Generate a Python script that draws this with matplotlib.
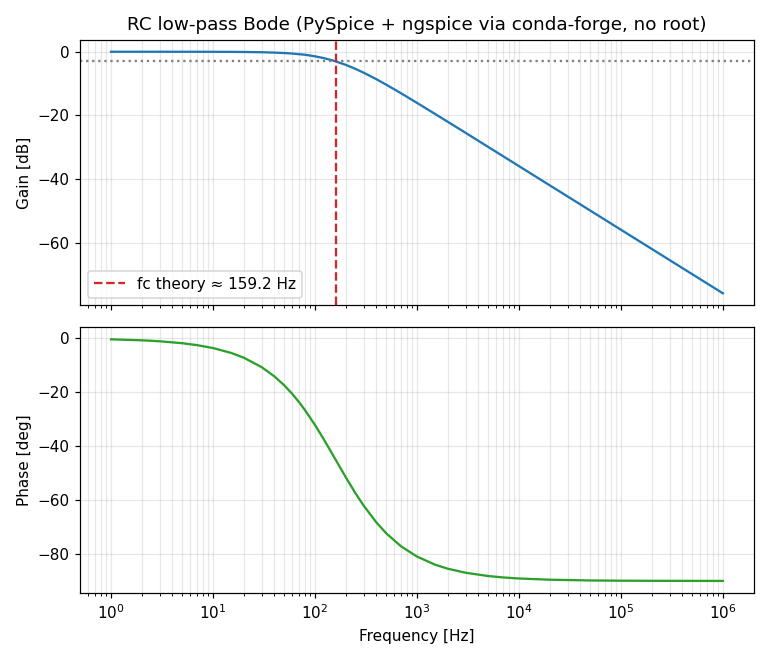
import matplotlib
matplotlib.use("Agg")
import matplotlib.pyplot as plt
from matplotlib.ticker import MultipleLocator

# values
freq_hz = [1, 2, 3, 5, 7, 10, 15, 20, 30, 40, 50, 60, 70, 80, 100, 120, 150,
           200, 250, 300, 400, 500, 700, 1e3, 1.5e3, 2e3, 3e3, 5e3, 7e3,
           1e4, 2e4, 5e4, 1e5, 2e5, 5e5, 1e6]
gain_db = [0.0, 0.0, 0.0, -0.01, -0.01, -0.02, -0.04, -0.07, -0.15, -0.27,
           -0.41, -0.57, -0.77, -0.94, -1.44, -1.95, -2.76, -4.11, -5.4, -6.58,
           -8.64, -10.36, -13.08, -16.07, -19.53, -22.0, -25.5, -29.94, -32.86,
           -35.96, -41.98, -49.94, -55.96, -61.98, -69.94, -75.96]
phase_deg = [-0.36, -0.72, -1.08, -1.8, -2.52, -3.59, -5.38, -7.16, -10.67,
             -14.1, -17.44, -20.65, -23.74, -26.68, -32.13, -37.0, -43.3,
             -51.48, -57.51, -62.05, -68.3, -72.34, -77.19, -80.95, -83.94,
             -85.45, -86.96, -88.18, -88.7, -89.09, -89.54, -89.82, -89.91,
             -89.95, -89.98, -89.99]
fc_theory = 159.2

fig, (ax1, ax2) = plt.subplots(2, 1, figsize=(7, 6), dpi=110, sharex=True)

# gain
ax1.semilogx(freq_hz, gain_db, color="tab:blue")
ax1.axhline(-3, color="gray", linestyle=":")
ax1.axvline(fc_theory, color="tab:red", linestyle="--",
            label=f"fc theory \u2248 {fc_theory:.1f} Hz")
ax1.set_ylabel("Gain [dB]")
ax1.set_title("RC low-pass Bode (PySpice + ngspice via conda-forge, no root)")
ax1.yaxis.set_major_locator(MultipleLocator(20))
ax1.grid(True, which="both", alpha=0.3)
ax1.legend(loc="lower left")

# phase
ax2.semilogx(freq_hz, phase_deg, color="tab:green")
ax2.set_ylabel("Phase [deg]")
ax2.set_xlabel("Frequency [Hz]")
ax2.grid(True, which="both", alpha=0.3)

fig.tight_layout()
fig.savefig("out.png")
